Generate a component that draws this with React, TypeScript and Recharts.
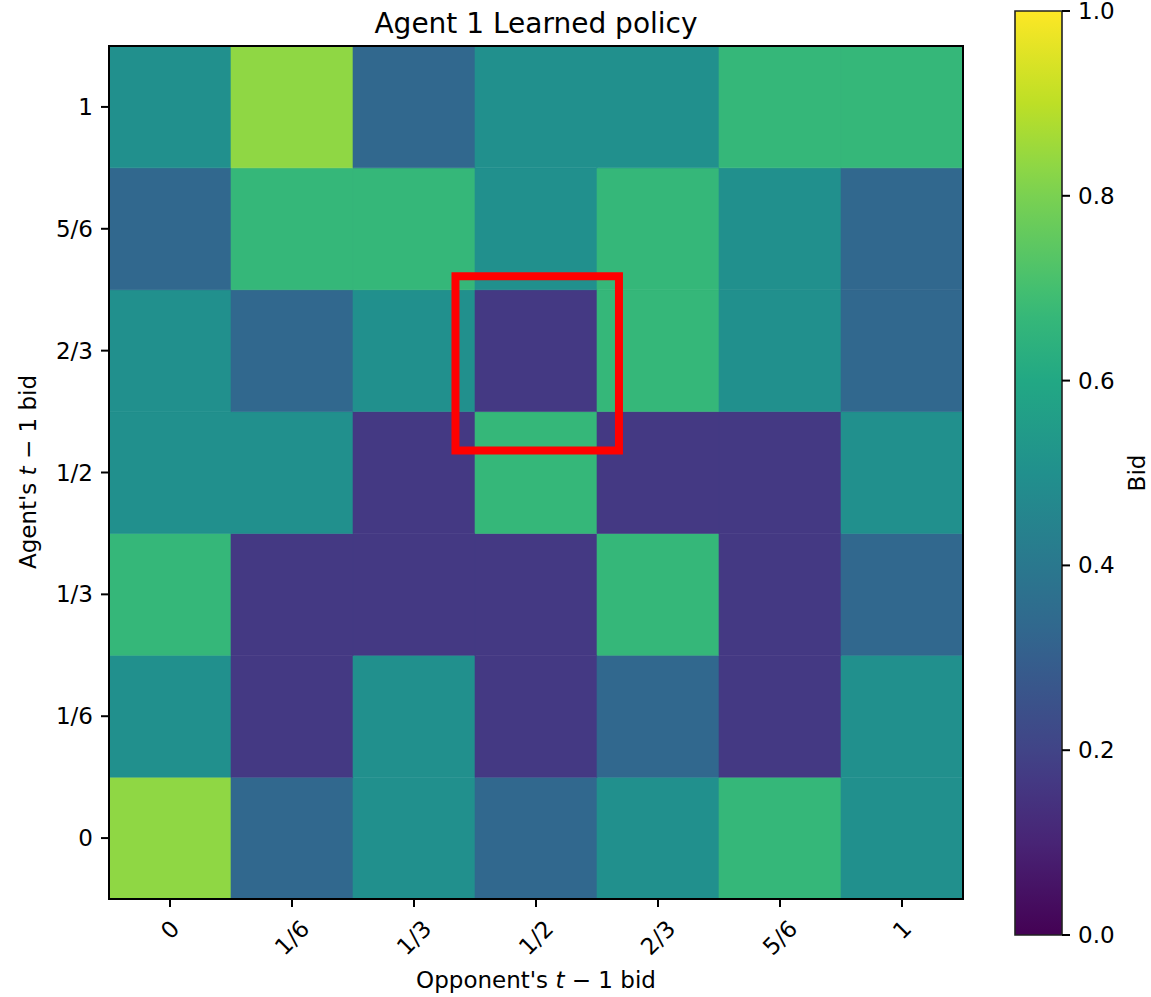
import React from 'react';
import { ComposedChart, Scatter, XAxis, YAxis, ReferenceArea } from 'recharts';

// tick labels shared by both axes (bid levels)
const BID_LABELS = ['0', '1/6', '1/3', '1/2', '2/3', '5/6', '1'];
const BID_INDEX = [0, 1, 2, 3, 4, 5, 6];

// learned bid, one row per agent's previous bid, columns = opponent's previous bid 0..1
const ROW_BID_0 = [0.833, 0.333, 0.5, 0.333, 0.5, 0.667, 0.5];
const ROW_BID_1_6 = [0.5, 0.167, 0.5, 0.167, 0.333, 0.167, 0.5];
const ROW_BID_1_3 = [0.667, 0.167, 0.167, 0.167, 0.667, 0.167, 0.333];
const ROW_BID_1_2 = [0.5, 0.5, 0.167, 0.667, 0.167, 0.167, 0.5];
const ROW_BID_2_3 = [0.5, 0.333, 0.5, 0.167, 0.667, 0.5, 0.333];
const ROW_BID_5_6 = [0.333, 0.667, 0.667, 0.5, 0.667, 0.5, 0.333];
const ROW_BID_1 = [0.5, 0.833, 0.333, 0.5, 0.5, 0.667, 0.667];

const ROWS = [ROW_BID_0, ROW_BID_1_6, ROW_BID_1_3, ROW_BID_1_2, ROW_BID_2_3, ROW_BID_5_6, ROW_BID_1];

// red highlight box, in cell coordinates
const HIGHLIGHT_X = [2.34, 3.68];
const HIGHLIGHT_Y = [3.18, 4.61];

const CBAR_TICKS = [0, 0.2, 0.4, 0.6, 0.8, 1];

// viridis colormap stops
const VIRIDIS_POS = [0, 0.1, 0.167, 0.2, 0.3, 0.333, 0.4, 0.5, 0.6, 0.667, 0.7, 0.8, 0.833, 0.9, 1];
const VIRIDIS_HEX = ['#440154', '#482475', '#443983', '#414487', '#355f8d', '#31688e', '#2a788e', '#21908d',
  '#22a884', '#35b779', '#44bf70', '#7ad151', '#8fd744', '#bddf26', '#fde725'];

const FONT = '"DejaVu Sans", Verdana, sans-serif';

const hexToRgb = (h: string) => [1, 3, 5].map(i => parseInt(h.slice(i, i + 2), 16));

const viridis = (v: number) => {
  let i = 0;
  while (i < VIRIDIS_POS.length - 2 && v > VIRIDIS_POS[i + 1]) i++;
  const t = Math.min(1, Math.max(0, (v - VIRIDIS_POS[i]) / (VIRIDIS_POS[i + 1] - VIRIDIS_POS[i])));
  const a = hexToRgb(VIRIDIS_HEX[i]);
  const b = hexToRgb(VIRIDIS_HEX[i + 1]);
  const c = a.map((x, k) => Math.round(x + (b[k] - x) * t));
  return `rgb(${c[0]},${c[1]},${c[2]})`;
};

const cells = ROWS.flatMap((row, y) => row.map((v, x) => ({ x, y, v })));

const charW = (ch: string) => (ch === '/' ? 0.337 : ch === '.' ? 0.318 : 0.636);

const XTick = (props: any) => {
  const label = BID_LABELS[props.payload.value];
  const w = label.split('').reduce((s, ch) => s + charW(ch), 0) * 23;
  const half = ((w + 27) * Math.SQRT1_2) / 2;
  const cx = props.x;
  const cy = props.y + half;
  return (
    <text x={cx} y={cy} textAnchor="middle" dominantBaseline="central" fontSize={23} fontFamily={FONT}
      fill="#000" transform={`rotate(-45, ${cx}, ${cy})`}>
      {label}
    </text>
  );
};

const YTick = (props: any) => (
  <text x={props.x} y={props.y} textAnchor="end" dominantBaseline="central" fontSize={23} fontFamily={FONT} fill="#000">
    {BID_LABELS[props.payload.value]}
  </text>
);

const CbarTick = (props: any) => (
  <text x={props.x} y={props.y} textAnchor="start" dominantBaseline="central" fontSize={23} fontFamily={FONT} fill="#000">
    {Number(props.payload.value).toFixed(1)}
  </text>
);

const tickLine = { stroke: '#000', strokeWidth: 2 };

export default function App() {
  return (
    <div style={{ position: 'absolute', left: 0, top: 0, width: 1151, height: 997, background: '#fff' }}>
      <div style={{ position: 'absolute', left: 0, top: 0 }}>
        <ComposedChart width={1151} height={997} data={cells} margin={{ top: 46, right: 188, bottom: 38, left: 9 }}>
          <XAxis type="number" dataKey="x" domain={[-0.5, 6.5]} ticks={BID_INDEX} interval={0} height={60}
            axisLine={false} tickSize={8} tickMargin={8} tickLine={tickLine} tick={<XTick />} />
          <YAxis type="number" dataKey="y" domain={[-0.5, 6.5]} ticks={BID_INDEX} interval={0} width={100}
            axisLine={false} tickSize={8} tickMargin={8} tickLine={tickLine} tick={<YTick />} />
          {cells.map(c => (
            <ReferenceArea key={`c-${c.x}-${c.y}`} x1={c.x - 0.5} x2={c.x + 0.5} y1={c.y - 0.5} y2={c.y + 0.5}
              fill={viridis(c.v)} fillOpacity={1} stroke={viridis(c.v)} strokeWidth={0.6} />
          ))}
          <ReferenceArea x1={-0.5} x2={6.5} y1={-0.5} y2={6.5} fill="none" fillOpacity={0} stroke="#000" strokeWidth={2} />
          <ReferenceArea x1={HIGHLIGHT_X[0]} x2={HIGHLIGHT_X[1]} y1={HIGHLIGHT_Y[0]} y2={HIGHLIGHT_Y[1]}
            fill="none" fillOpacity={0} stroke="#ff0000" strokeWidth={8} />
          <Scatter dataKey="y" isAnimationActive={false} shape={() => <g />} />
          <text x={536} y={33} textAnchor="middle" fontSize={28} fontFamily={FONT} fill="#000">Agent 1 Learned policy</text>
          <text x={536} y={988} textAnchor="middle" fontSize={23} fontFamily={FONT} fill="#000">
            Opponent's <tspan fontStyle="italic">t</tspan> − 1 bid
          </text>
          <text x={28} y={472} textAnchor="middle" dominantBaseline="central" fontSize={23} fontFamily={FONT} fill="#000"
            transform="rotate(-90, 28, 472)">
            Agent's <tspan fontStyle="italic">t</tspan> − 1 bid
          </text>
        </ComposedChart>
      </div>
      <div style={{ position: 'absolute', left: 0, top: 0 }}>
        <ComposedChart width={1151} height={997} data={CBAR_TICKS.map(t => ({ x: 0.5, y: t }))}
          margin={{ top: 11, right: 29, bottom: 62, left: 1015 }}>
          <defs>
            <linearGradient id="viridisGrad" x1="0" y1="1" x2="0" y2="0">
              {VIRIDIS_POS.map((p, i) => (
                <stop key={p} offset={`${p * 100}%`} stopColor={VIRIDIS_HEX[i]} />
              ))}
            </linearGradient>
          </defs>
          <XAxis type="number" dataKey="x" domain={[0, 1]} hide />
          <YAxis type="number" dataKey="y" orientation="right" domain={[0, 1]} ticks={CBAR_TICKS} interval={0} width={60}
            axisLine={false} tickSize={8} tickMargin={8} tickLine={tickLine} tick={<CbarTick />} />
          <ReferenceArea x1={0} x2={1} y1={0} y2={1} fill="url(#viridisGrad)" fillOpacity={1} stroke="#222" strokeWidth={1.6} />
          <Scatter dataKey="y" isAnimationActive={false} shape={() => <g />} />
          <text x={1137} y={473} textAnchor="middle" dominantBaseline="central" fontSize={23} fontFamily={FONT} fill="#000"
            transform="rotate(-90, 1137, 473)">
            Bid
          </text>
        </ComposedChart>
      </div>
    </div>
  );
}
